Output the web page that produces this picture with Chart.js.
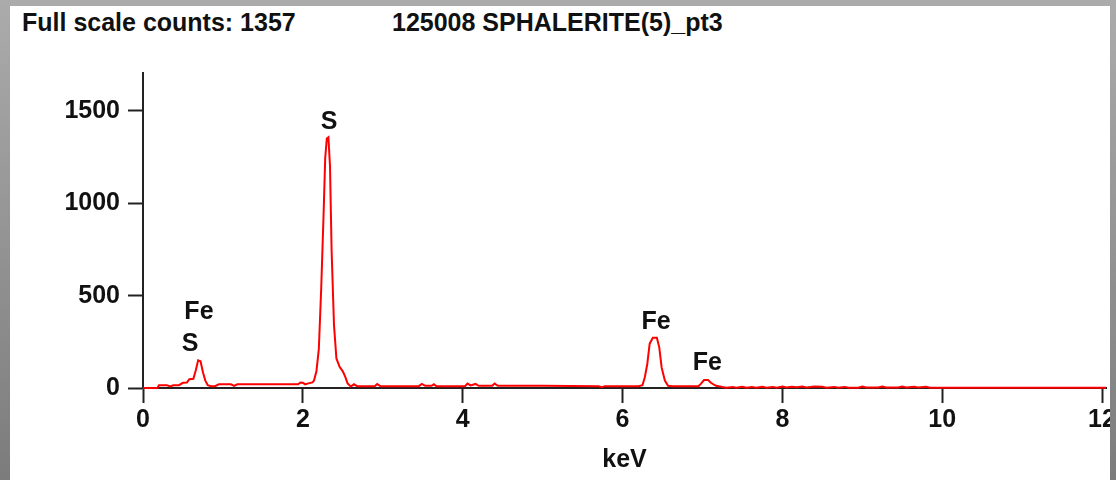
<!DOCTYPE html>
<html>
<head>
<meta charset="utf-8">
<script src="https://cdn.jsdelivr.net/npm/chart.js@4/dist/chart.umd.min.js"></script>
<style>
  html, body { margin: 0; padding: 0; }
  body {
    width: 1116px; height: 480px; overflow: hidden; position: relative;
    background: linear-gradient(to bottom, #ababab, #7c7c7c);
  }
  #panel { position: absolute; left: 10px; top: 6px; width: 1100px; height: 474px; background: #fff; }
  #panel canvas { position: absolute; left: 0; top: 0; }
  .head {
    position: absolute; top: 2px; font: bold 25px "Liberation Sans Narrow", "Arial Narrow", "Liberation Sans", sans-serif;
    color: #111; white-space: nowrap;
  }
</style>
</head>
<body>
<div id="panel">
  <div class="head" style="left:12px">Full scale counts: 1357</div>
  <div class="head" style="left:382px">125008 SPHALERITE(5)_pt3</div>
  <canvas id="edsChart" width="1100" height="474"></canvas>
</div>
<script>
// Espectro EDS (keV / contagens)
const energyKeV = [
  0.00, 0.10, 0.18, 0.20, 0.30, 0.34, 0.38, 0.45, 0.50, 0.55, 0.58, 0.63, 0.66, 0.69, 0.72, 0.75, 0.78, 0.81, 0.85, 0.90,
  0.95, 1.10, 1.14, 1.18, 1.40, 1.70, 1.94, 1.97, 2.00, 2.03, 2.07, 2.12, 2.14, 2.17, 2.20, 2.23, 2.26, 2.28, 2.30, 2.32,
  2.34, 2.36, 2.39, 2.42, 2.46, 2.50, 2.53, 2.56, 2.60, 2.64, 2.68, 2.90, 2.93, 2.97, 3.45, 3.49, 3.53, 3.61, 3.64, 3.67,
  4.03, 4.06, 4.10, 4.16, 4.20, 4.37, 4.40, 4.44, 5.00, 5.70, 5.74, 5.78, 6.20, 6.25, 6.28, 6.31, 6.34, 6.38, 6.43, 6.46,
  6.49, 6.53, 6.57, 6.62, 6.95, 6.98, 7.02, 7.07, 7.11, 7.17, 7.25, 7.30, 7.38, 7.42, 7.50, 7.55, 7.62, 7.67, 7.75, 7.80,
  7.88, 7.93, 8.00, 8.05, 8.12, 8.18, 8.25, 8.30, 8.40, 8.50, 8.55, 8.65, 8.70, 8.78, 8.83, 8.95, 9.00, 9.05, 9.20, 9.25,
  9.30, 9.45, 9.50, 9.55, 9.65, 9.70, 9.80, 9.85, 9.90, 10.00, 12.05
];
const counts = [
  0, 0, 0, 15, 15, 8, 15, 15, 28, 30, 48, 50, 95, 150, 145, 85, 40, 15, 10, 10,
  20, 20, 12, 20, 20, 20, 20, 30, 28, 20, 25, 30, 40, 90, 210, 540, 945, 1245, 1350, 1357,
  1200, 745, 340, 160, 115, 90, 62, 25, 8, 20, 10, 10, 22, 10, 10, 22, 12, 12, 20, 10,
  10, 24, 14, 22, 12, 12, 24, 12, 12, 10, 4, 10, 10, 15, 60, 130, 240, 272, 272, 220,
  110, 40, 12, 10, 10, 22, 43, 43, 27, 12, 5, 2, 6, 2, 7, 2, 6, 2, 7, 2,
  6, 2, 8, 3, 7, 4, 8, 3, 8, 7, 2, 6, 2, 6, 2, 2, 8, 3, 3, 8,
  3, 3, 8, 3, 7, 3, 7, 2, 1, 1, 1
];
const xTicks = [0, 2, 4, 6, 8, 10, 12];
const yTicks = [0, 500, 1000, 1500];

// Rótulos dos picos (elemento, keV, contagens)
const peakNames = ['S', 'Fe', 'S', 'Fe', 'Fe'];
const peakKeV = [2.33, 0.70, 0.59, 6.42, 7.06];
const peakCounts = [1440, 410, 237, 354, 136];

const labelFont = 'bold 25px "Liberation Sans Narrow", "Arial Narrow", "Liberation Sans", sans-serif';
const fontSpec = { family: '"Liberation Sans Narrow", "Arial Narrow", "Liberation Sans", sans-serif', size: 25, weight: 'bold' };

const peakLabels = {
  id: 'peakLabels',
  afterDatasetsDraw(chart) {
    const { ctx, scales: { x, y } } = chart;
    ctx.save();
    ctx.font = labelFont;
    ctx.fillStyle = '#111';
    ctx.textAlign = 'center';
    ctx.textBaseline = 'middle';
    peakNames.forEach((name, i) => {
      ctx.fillText(name, x.getPixelForValue(peakKeV[i]), y.getPixelForValue(peakCounts[i]));
    });
    ctx.restore();
  }
};

function generateChart() {
  const ctx = document.getElementById('edsChart').getContext('2d');
  new Chart(ctx, {
    type: 'line',
    data: {
      datasets: [{
        data: energyKeV.map((e, i) => ({ x: e, y: counts[i] })),
        borderColor: '#ff0000',
        borderWidth: 2,
        pointRadius: 0,
        tension: 0,
        fill: false,
        clip: false
      }]
    },
    options: {
      responsive: false,
      animation: false,
      layout: { padding: { top: 67, right: 4, left: 0, bottom: 0 } },
      plugins: { legend: { display: false }, tooltip: { enabled: false } },
      scales: {
        x: {
          type: 'linear',
          min: 0,
          max: 12.05,
          afterFit: (scale) => { scale.height = 92; scale.paddingLeft = 0; scale.paddingRight = 0; },
          afterBuildTicks: (scale) => { scale.ticks = xTicks.map(v => ({ value: v })); },
          border: { color: '#222', width: 2 },
          grid: { drawOnChartArea: false, tickLength: 15, tickWidth: 2, tickColor: '#222' },
          ticks: { color: '#111', font: fontSpec, padding: 2, maxRotation: 0, callback: v => String(v) },
          title: { display: true, text: 'keV', color: '#111', font: fontSpec, padding: { top: 0, bottom: 5 } }
        },
        y: {
          min: 0,
          max: 1705,
          afterFit: (scale) => { scale.width = 133; scale.paddingTop = 0; scale.paddingBottom = 0; },
          afterBuildTicks: (scale) => { scale.ticks = yTicks.map(v => ({ value: v })); },
          border: { color: '#222', width: 2 },
          grid: { drawOnChartArea: false, tickLength: 15, tickWidth: 2, tickColor: '#222' },
          ticks: { color: '#111', font: fontSpec, padding: 8, callback: v => String(v) }
        }
      }
    },
    plugins: [peakLabels]
  });
}

document.addEventListener('DOMContentLoaded', generateChart);
</script>
</body>
</html>
